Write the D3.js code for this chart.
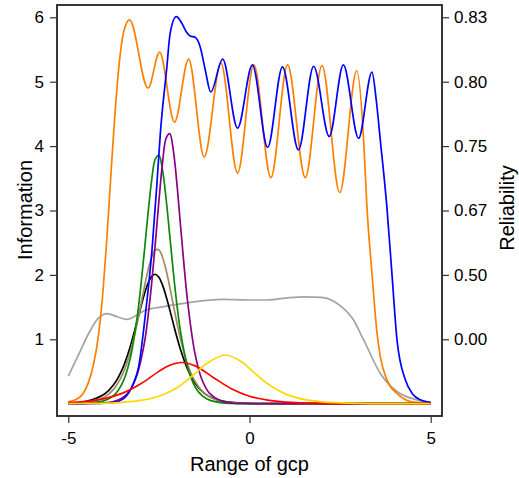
<!DOCTYPE html>
<html>
<head>
<meta charset="utf-8">
<script src="https://cdn.jsdelivr.net/npm/d3@7"></script>
<style>
  body { margin: 0; background: #fff; }
  svg { display: block; }
  text { font-family: "Liberation Sans", Arial, Helvetica, sans-serif; }
</style>
</head>
<body>
<svg id="chart" width="519" height="478"></svg>
<script>
// ---- data ----
const xTicks = [-5, 0, 5];
const infoTicks = [1, 2, 3, 4, 5, 6];
const relLabels = ["0.00", "0.50", "0.67", "0.75", "0.80", "0.83"];

// test information, orange
const thetaOrange = [-5, -4.8, -4.6, -4.45, -4.3, -4.17, -4.05, -3.95, -3.87, -3.75, -3.61, -3.47, -3.31,
  -2.8, -2.48, -2.07, -1.68, -1.25, -0.79, -0.33, 0.12, 0.59, 1.05, 1.54, 2.0, 2.49, 2.96,
  3.15, 3.24, 3.38, 3.52, 3.61, 3.79, 4.07, 4.48, 5];
const infoOrange = [0.03, 0.06, 0.15, 0.32, 0.62, 1.05, 1.7, 2.45, 3.15, 4.2, 5.2, 5.78, 5.96,
  4.9, 5.46, 4.37, 5.35, 3.83, 5.29, 3.58, 5.26, 3.51, 5.26, 3.51, 5.25, 3.28, 5.17,
  4.09, 3.06, 2.02, 1.09, 0.73, 0.37, 0.16, 0.03, 0.01];

// test information, blue
const thetaBlue = [-5, -4.3, -3.71, -3.5, -3.34, -3.2, -3.06, -2.88, -2.69, -2.56, -2.46, -2.28, -2.19, -2.02,
  -1.87, -1.75, -1.64, -1.5, -1.36, -1.22, -1.07, -0.74, -0.33, 0.08, 0.5, 0.91, 1.35, 1.77, 2.2, 2.59, 3.01, 3.38,
  3.5, 3.61, 3.79, 3.93, 4.07, 4.3, 4.5, 4.71, 5];
const infoBlue = [0, 0.003, 0.02, 0.07, 0.16, 0.32, 0.57, 1.35, 2.39, 3.37, 4.2, 5.23, 5.75, 6.01,
  5.91, 5.78, 5.71, 5.69, 5.54, 5.18, 4.84, 5.35, 4.28, 5.26, 3.98, 5.23, 3.94, 5.24, 4.15, 5.26, 4.12, 5.15,
  4.7, 4.09, 3.06, 2.02, 0.99, 0.37, 0.15, 0.06, 0.02];

// test information, gray
const thetaGray = [-5, -4.7, -4.44, -4.17, -3.93, -3.65, -3.38, -3.1, -2.88, -2.33, -1.68, -0.76, 0, 0.5,
  1.0, 1.5, 2.0, 2.3, 2.55, 2.87, 3.15, 3.61, 4.07, 4.62, 5];
const infoGray = [0.43, 0.78, 1.09, 1.33, 1.40, 1.35, 1.31, 1.38, 1.45, 1.51, 1.57, 1.62, 1.61, 1.61,
  1.64, 1.66, 1.65, 1.60, 1.50, 1.30, 0.99, 0.47, 0.19, 0.06, 0.02];

// item information curves
const thetaNarrow = [-5, -4.5, -4, -3.75, -3.5, -3.3, -3.1, -2.9, -2.8, -2.7, -2.6, -2.5, -2.4, -2.3, -2.2,
  -2.1, -2.0, -1.9, -1.7, -1.5, -1.3, -1.1, -0.8, -0.5, 0, 1, 2, 3, 4, 5];
const infoGreen = [0.001, 0.007, 0.048, 0.125, 0.327, 0.68, 1.339, 2.373, 2.955, 3.469, 3.797, 3.857, 3.627, 3.175, 2.609,
  2.033, 1.523, 1.107, 0.549, 0.26, 0.121, 0.055, 0.017, 0.005, 0.001, 0, 0, 0, 0, 0];
const infoPurple = [0, 0.002, 0.012, 0.033, 0.092, 0.207, 0.453, 0.945, 1.353, 1.868, 2.481, 3.143, 3.738, 4.125, 4.194,
  3.925, 3.397, 2.747, 1.548, 0.766, 0.356, 0.161, 0.048, 0.014, 0.002, 0, 0, 0, 0, 0];
const infoTan = [0.005, 0.023, 0.105, 0.222, 0.458, 0.779, 1.249, 1.812, 2.073, 2.275, 2.386, 2.386, 2.275, 2.073, 1.812,
  1.528, 1.249, 0.995, 0.598, 0.344, 0.192, 0.105, 0.042, 0.017, 0.004, 0, 0, 0, 0, 0];
const infoBlack = [0.009, 0.037, 0.15, 0.293, 0.55, 0.87, 1.281, 1.704, 1.87, 1.977, 2.01, 1.962, 1.842, 1.666, 1.457,
  1.239, 1.027, 0.833, 0.524, 0.316, 0.186, 0.107, 0.047, 0.02, 0.005, 0, 0, 0, 0, 0];

const thetaRed = [-5, -4.5, -4, -3.5, -3, -2.5, -2.2, -1.87, -1.5, -1, -0.5, 0, 0.5, 1, 2, 3, 4, 5];
const infoRed = [0.017, 0.037, 0.08, 0.164, 0.309, 0.502, 0.597, 0.64, 0.587, 0.408, 0.232, 0.116, 0.055, 0.025, 0.005, 0.001, 0, 0];

const thetaYellow = [-5, -4.5, -4, -3.5, -3, -2.5, -2, -1.5, -1.2, -0.67, -0.2, 0, 0.5, 1, 1.5, 2, 3, 4, 5];
const infoYellow = [0.002, 0.004, 0.009, 0.022, 0.051, 0.116, 0.248, 0.467, 0.616, 0.756, 0.643, 0.547, 0.309, 0.149, 0.066, 0.029, 0.005, 0.001, 0];

// ---- layout ----
const svg = d3.select("#chart");
const box = { left: 57, right: 442, top: 5, bottom: 416 };

const x = d3.scaleLinear().domain([-5, 5]).range([68.3, 430.7]);
const y = d3.scaleLinear().domain([0, 6]).range([403.7, 17.3]);

svg.append("rect")
  .attr("width", 519).attr("height", 478)
  .attr("fill", "#fff");

// curves
const smooth = d3.line()
  .x(d => x(d[0]))
  .y(d => y(d[1]))
  .curve(d3.curveMonotoneX);

const bell = d3.line()
  .x(d => x(d[0]))
  .y(d => y(d[1]))
  .curve(d3.curveCatmullRom.alpha(0.5));

const series = [
  { th: thetaGray, v: infoGray, color: "#a3a3a3", gen: smooth },
  { th: thetaOrange, v: infoOrange, color: "#ff8000", gen: smooth },
  { th: thetaNarrow, v: infoBlack, color: "#000000", gen: bell },
  { th: thetaNarrow, v: infoTan, color: "#a08c60", gen: bell },
  { th: thetaNarrow, v: infoGreen, color: "#0a8a0a", gen: bell },
  { th: thetaNarrow, v: infoPurple, color: "#880088", gen: bell },
  { th: thetaBlue, v: infoBlue, color: "#0000ff", gen: smooth },
  { th: thetaRed, v: infoRed, color: "#ff0000", gen: bell },
  { th: thetaYellow, v: infoYellow, color: "#ffd700", gen: bell }
];

series.forEach(s => {
  svg.append("path")
    .datum(s.th.map((t, i) => [t, s.v[i]]))
    .attr("fill", "none")
    .attr("stroke", s.color)
    .attr("stroke-width", 1.7)
    .attr("stroke-linejoin", "round")
    .attr("d", s.gen);
});

// frame
svg.append("rect")
  .attr("x", box.left).attr("y", box.top)
  .attr("width", box.right - box.left).attr("height", box.bottom - box.top)
  .attr("fill", "none")
  .attr("stroke", "#222")
  .attr("stroke-width", 1.8);

function styleAxis(g) {
  g.select(".domain").remove();
  g.selectAll(".tick line").attr("stroke", "#333").attr("stroke-width", 1.2);
  g.selectAll(".tick text").attr("fill", "#000").attr("font-size", 17)
    .attr("font-family", "'Liberation Sans', Arial, sans-serif");
}

svg.append("g")
  .attr("transform", `translate(${box.left},0)`)
  .call(d3.axisLeft(y).tickValues(infoTicks).tickSize(7).tickPadding(6).tickFormat(d => String(d)))
  .call(styleAxis);

svg.append("g")
  .attr("transform", `translate(${box.right},0)`)
  .call(d3.axisRight(y).tickValues(infoTicks).tickSize(7).tickPadding(5)
    .tickFormat((d, i) => relLabels[i]))
  .call(styleAxis);

svg.append("g")
  .attr("transform", `translate(0,${box.bottom})`)
  .call(d3.axisBottom(x).tickValues(xTicks).tickSize(7).tickPadding(9).tickFormat(d => String(d)))
  .call(styleAxis);

// axis titles
svg.append("text")
  .attr("x", (box.left + box.right) / 2)
  .attr("y", 471)
  .attr("text-anchor", "middle")
  .attr("font-size", 20)
  .text("Range of gcp");

svg.append("text")
  .attr("transform", "translate(32,210) rotate(-90)")
  .attr("text-anchor", "middle")
  .attr("font-size", 20)
  .text("Information");

svg.append("text")
  .attr("transform", "translate(514,208) rotate(-90)")
  .attr("text-anchor", "middle")
  .attr("font-size", 20)
  .text("Reliability");
</script>
</body>
</html>
